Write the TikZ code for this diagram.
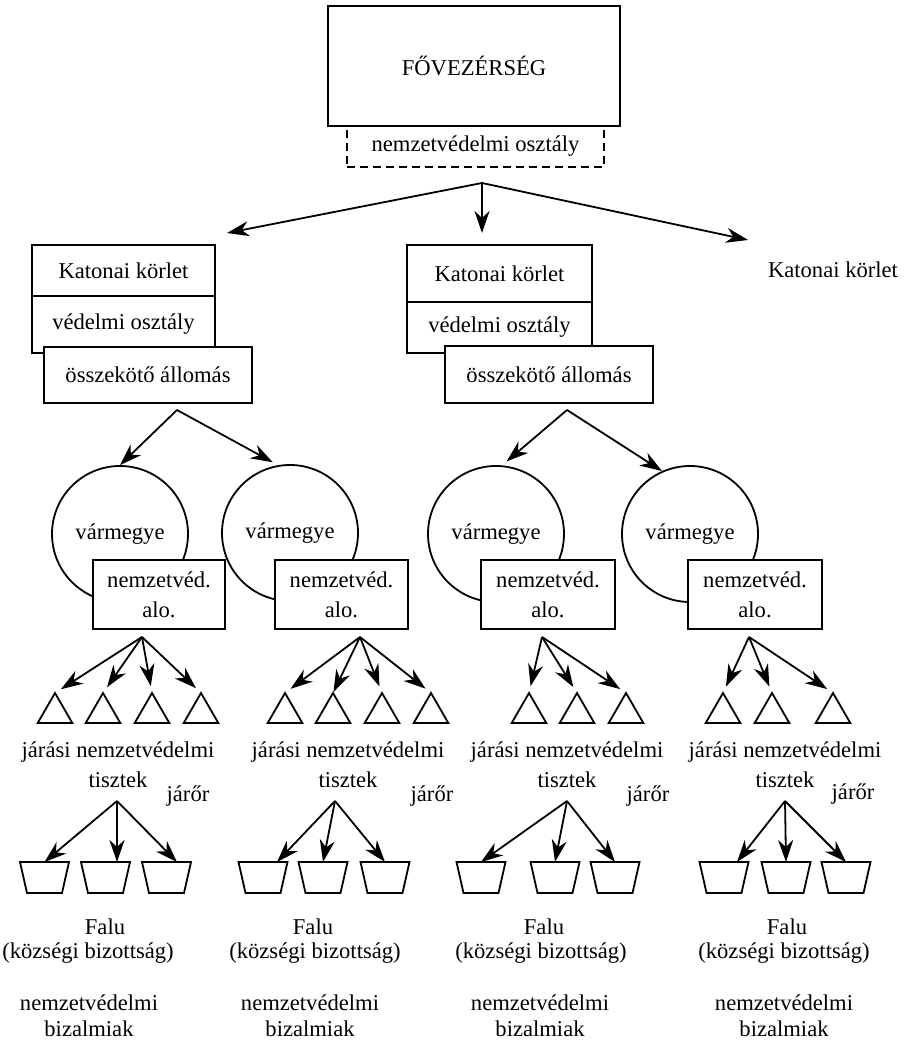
\documentclass[tikz,border=0pt]{standalone}
\usepackage{fontspec}
\setmainfont{Liberation Serif}
\usetikzlibrary{arrows.meta,shapes.geometric}
\tikzset{
  box/.style={draw, fill=white, inner sep=0pt},
  kor/.style={draw, circle, minimum size=68pt, inner sep=0pt},
  tri/.style={draw, regular polygon, regular polygon sides=3, minimum size=20pt, inner sep=0pt, outer sep=0pt, anchor=north},
  trap/.style={minimum width=24.5pt, minimum height=15.5pt, inner sep=0pt, outer sep=0pt},
}
\begin{document}
\begin{tikzpicture}[x=0.5pt, y=-0.5pt, line width=0.9pt, >={Stealth[length=11pt,width=7.5pt,inset=3.5pt]}, font=\fontsize{11.3}{13}\selectfont]
\useasboundingbox (0,0) rectangle (909,1042);
% top
\node[box, minimum width=146pt, minimum height=60pt] (fo) at (474,66) {FŐVEZÉRSÉG};
\node[box, fill=none, dash pattern=on 4pt off 2.5pt, minimum width=128.5pt, minimum height=20.5pt] (nvo) at (475.5,146.5) {nemzetvédelmi osztály};
\coordinate (s0) at (482,183);
\coordinate (e1) at (227,233);
\coordinate (e2) at (482,233);
\coordinate (e3) at (748,240);
\draw[->] (s0) -- (e1);
\draw[->] (s0) -- (e2);
\draw[->] (s0) -- (e3);
% katonai korletek
\node[box, minimum width=91.5pt, minimum height=25.5pt] (k1) at (123.5,270.5) {Katonai körlet};
\node[box, minimum width=91.5pt, minimum height=28.5pt] (v1) at (123.5,324.5) {védelmi osztály};
\node[box, minimum width=104pt, minimum height=28pt] (o1) at (148,375) {összekötő állomás};
\node[box, minimum width=92.5pt, minimum height=28.5pt] (k2) at (499.5,273.5) {Katonai körlet};
\node[box, minimum width=92.5pt, minimum height=25.5pt] (v2) at (499.5,327.5) {védelmi osztály};
\node[box, minimum width=104pt, minimum height=28.5pt] (o2) at (549,374.5) {összekötő állomás};
\node (k3) at (833,270) {Katonai körlet};
% varmegyek
\node[kor] (c1) at (120,534) {vármegye};
\node[kor] (c2) at (290,533) {vármegye};
\node[kor] (c3) at (496,534) {vármegye};
\node[kor] (c4) at (690,534) {vármegye};
\node[box, align=center, minimum width=66pt, minimum height=34.5pt] (a1) at (159,594.5) {nemzetvéd.\\[2pt]alo.};
\node[box, align=center, minimum width=66.5pt, minimum height=34.5pt] (a2) at (341.5,594.5) {nemzetvéd.\\[2pt]alo.};
\node[box, align=center, minimum width=67pt, minimum height=34.5pt] (a3) at (548,594.5) {nemzetvéd.\\[2pt]alo.};
\node[box, align=center, minimum width=67pt, minimum height=34.5pt] (a4) at (755,594.5) {nemzetvéd.\\[2pt]alo.};
\coordinate (s1) at (177,410);
\coordinate (s2) at (567,410);
\draw[->] (s1) -- (c1.north);
\draw[->, shorten >=3pt] (s1) -- (c2.100);
\draw[->, shorten >=3pt] (s2) -- (c3.85);
\draw[->] (s2) -- (c4.114);
% jarasi tisztek
\node[tri] (j11) at (55,693) {};
\node[tri] (j12) at (103,693) {};
\node[tri] (j13) at (152,693) {};
\node[tri] (j14) at (201,693) {};
\node[tri] (j21) at (285,693) {};
\node[tri] (j22) at (333,693) {};
\node[tri] (j23) at (382,693) {};
\node[tri] (j24) at (431,693) {};
\node[tri] (j31) at (529,693) {};
\node[tri] (j32) at (577,693) {};
\node[tri] (j33) at (626,693) {};
\node[tri] (j41) at (723,693) {};
\node[tri] (j42) at (772,693) {};
\node[tri] (j43) at (833,693) {};
\coordinate (t1) at (142,637);
\coordinate (t2) at (360,637);
\coordinate (t3) at (542,637);
\coordinate (t4) at (749,637);
\draw[->, shorten >=3.5pt] (t1) -- (j11.north);
\draw[->, shorten >=3.5pt] (t1) -- (j12.north);
\draw[->, shorten >=3.5pt] (t1) -- (j13.north);
\draw[->, shorten >=3.5pt] (t1) -- (j14.north);
\draw[->, shorten >=3.5pt] (t2) -- (j21.north);
\draw[->, shorten >=0.5pt] (t2) -- (j22.north);
\draw[->, shorten >=3.5pt] (t2) -- (j23.north);
\draw[->, shorten >=3.5pt] (t2) -- (j24.north);
\draw[->, shorten >=3.5pt] (t3) -- (j31.north);
\draw[->, shorten >=3.5pt] (t3) -- (j32.north);
\draw[->, shorten >=3.5pt] (t3) -- (j33.north);
\draw[->, shorten >=3.5pt] (t4) -- (j41.north);
\draw[->, shorten >=3.5pt] (t4) -- (j42.north);
\draw[->, shorten >=3.5pt] (t4) -- (j43.north);
\node[align=center] (jt1) at (118,765) {járási nemzetvédelmi\\[2pt]tisztek};
\node[align=center] (jt2) at (348,765) {járási nemzetvédelmi\\[2pt]tisztek};
\node[align=center] (jt3) at (567,765) {járási nemzetvédelmi\\[2pt]tisztek};
\node[align=center] (jt4) at (785,765) {járási nemzetvédelmi\\[2pt]tisztek};
\node (jr1) at (188,796) {járőr};
\node (jr2) at (432,796) {járőr};
\node (jr3) at (648,796) {járőr};
\node (jr4) at (853,794) {járőr};
% falvak
\node[trap] (f11) at (44.5,877.5) {};
\node[trap] (f12) at (105.5,877.5) {};
\node[trap] (f13) at (166.5,877.5) {};
\node[trap] (f21) at (263,877.5) {};
\node[trap] (f22) at (323,877.5) {};
\node[trap] (f23) at (385,877.5) {};
\node[trap] (f31) at (481,877.5) {};
\node[trap] (f32) at (555,877.5) {};
\node[trap] (f33) at (615,877.5) {};
\node[trap] (f41) at (724,877.5) {};
\node[trap] (f42) at (786,877.5) {};
\node[trap] (f43) at (846,877.5) {};
\foreach \f in {f11,f12,f13,f21,f22,f23,f31,f32,f33,f41,f42,f43}
  \draw (\f.north west) -- (\f.north east) -- ([xshift=-3.5pt]\f.south east) -- ([xshift=3.5pt]\f.south west) -- cycle;
\coordinate (u1) at (117,801);
\coordinate (u2) at (335,801);
\coordinate (u3) at (567,801);
\coordinate (u4) at (785,801);
\draw[->] (u1) -- (f11.north);
\draw[->] (u1) -- ([xshift=5.75pt]f12.north);
\draw[->] (u1) -- ([xshift=5.25pt]f13.north);
\draw[->] (u2) -- ([xshift=7pt]f21.north);
\draw[->] (u2) -- (f22.north);
\draw[->] (u2) -- (f23.north);
\draw[->] (u3) -- (f31.north);
\draw[->] (u3) -- (f32.north);
\draw[->] (u3) -- (f33.north);
\draw[->] (u4) -- ([xshift=6.5pt]f41.north);
\draw[->] (u4) -- (f42.north);
\draw[->] (u4) -- (f43.north);
\node (fa1) at (105,927) {Falu};
\node (fa2) at (313,927) {Falu};
\node (fa3) at (544,927) {Falu};
\node (fa4) at (787,927) {Falu};
\node (kb1) at (88,953) {(községi bizottság)};
\node (kb2) at (315,953) {(községi bizottság)};
\node (kb3) at (541,953) {(községi bizottság)};
\node (kb4) at (784,953) {(községi bizottság)};
\node[align=center] (nb1) at (89,1015.5) {nemzetvédelmi\\bizalmiak};
\node[align=center] (nb2) at (310,1015.5) {nemzetvédelmi\\bizalmiak};
\node[align=center] (nb3) at (540,1015.5) {nemzetvédelmi\\bizalmiak};
\node[align=center] (nb4) at (784,1015.5) {nemzetvédelmi\\bizalmiak};
\end{tikzpicture}
\end{document}
